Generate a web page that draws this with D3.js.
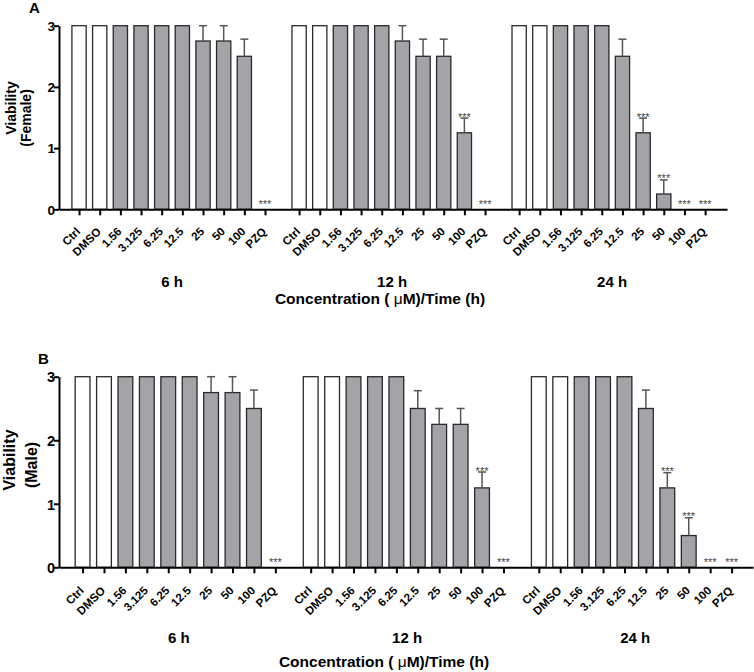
<!DOCTYPE html>
<html>
<head>
<meta charset="utf-8">
<script src="https://cdn.jsdelivr.net/npm/d3@7"></script>
<style>
  html, body { margin: 0; padding: 0; background: #fff; }
  svg { display: block; font-family: Arial, "Liberation Sans", sans-serif; }
</style>
</head>
<body>
<svg id="chart" width="754" height="672"></svg>
<script>
// ---------- data ----------
const categories = ["Ctrl", "DMSO", "1.56", "3.125", "6.25", "12.5", "25", "50", "100", "PZQ"];
const timeLabels = ["6 h", "12 h", "24 h"];
const yTicks = [0, 1, 2, 3];

const female6h    = [3, 3, 3, 3, 3, 3, 2.75, 2.75, 2.5, 0];
const female6hErr = [0, 0, 0, 0, 0, 0, 0.25, 0.25, 0.28, 0];
const female12h    = [3, 3, 3, 3, 3, 2.75, 2.5, 2.5, 1.25, 0];
const female12hErr = [0, 0, 0, 0, 0, 0.25, 0.28, 0.28, 0.24, 0];
const female24h    = [3, 3, 3, 3, 3, 2.5, 1.25, 0.25, 0, 0];
const female24hErr = [0, 0, 0, 0, 0, 0.28, 0.24, 0.23, 0, 0];
const femaleSig6h  = [0, 0, 0, 0, 0, 0, 0, 0, 0, 1];
const femaleSig12h = [0, 0, 0, 0, 0, 0, 0, 0, 1, 1];
const femaleSig24h = [0, 0, 0, 0, 0, 0, 1, 1, 1, 1];

const male6h    = [3, 3, 3, 3, 3, 3, 2.75, 2.75, 2.5, 0];
const male6hErr = [0, 0, 0, 0, 0, 0, 0.25, 0.25, 0.29, 0];
const male12h    = [3, 3, 3, 3, 3, 2.5, 2.25, 2.25, 1.25, 0];
const male12hErr = [0, 0, 0, 0, 0, 0.28, 0.25, 0.25, 0.25, 0];
const male24h    = [3, 3, 3, 3, 3, 2.5, 1.25, 0.5, 0, 0];
const male24hErr = [0, 0, 0, 0, 0, 0.29, 0.24, 0.28, 0, 0];
const maleSig6h  = [0, 0, 0, 0, 0, 0, 0, 0, 0, 1];
const maleSig12h = [0, 0, 0, 0, 0, 0, 0, 0, 1, 1];
const maleSig24h = [0, 0, 0, 0, 0, 0, 1, 1, 1, 1];

// ---------- drawing ----------
const svg = d3.select("#chart");
const GROUP_STEP = 10.65;   // slots between group starts
const WHITE_N = 2;          // Ctrl & DMSO drawn white

function drawPanel(o) {
  const g = svg.append("g");
  const x = d3.scaleLinear().domain([o.slotMin, o.slotMax]).range([o.left, o.right]);
  const y = d3.scaleLinear().domain([0, 3]).range([o.bottom, o.top]);
  const pitch = x(1) - x(0);
  const bw = pitch * 0.69;

  const rows = [];
  o.series.forEach((vals, gi) => {
    vals.forEach((v, i) => {
      rows.push({ gi, i, v, e: o.errs[gi][i], s: o.sig[gi][i], pos: gi * GROUP_STEP + i, name: categories[i] });
    });
  });

  // bars
  g.selectAll("rect.bar").data(rows.filter(d => d.v > 0)).join("rect")
    .attr("class", "bar")
    .attr("x", d => x(d.pos) - bw / 2)
    .attr("width", bw)
    .attr("y", d => y(d.v))
    .attr("height", d => y(0) - y(d.v))
    .attr("fill", d => d.i < WHITE_N ? "#ffffff" : "#a3a3a8")
    .attr("stroke", "#2a2a2a")
    .attr("stroke-width", 1.3);

  // error bars
  const eb = rows.filter(d => d.e > 0);
  g.selectAll("line.err").data(eb).join("line")
    .attr("class", "err")
    .attr("x1", d => x(d.pos)).attr("x2", d => x(d.pos))
    .attr("y1", d => y(d.v)).attr("y2", d => y(d.v + d.e))
    .attr("stroke", "#555").attr("stroke-width", 1.5);
  g.selectAll("line.cap").data(eb).join("line")
    .attr("class", "cap")
    .attr("x1", d => x(d.pos) - 4).attr("x2", d => x(d.pos) + 4)
    .attr("y1", d => y(d.v + d.e)).attr("y2", d => y(d.v + d.e))
    .attr("stroke", "#555").attr("stroke-width", 1.5);

  // significance stars
  g.selectAll("text.sig").data(rows.filter(d => d.s)).join("text")
    .attr("class", "sig")
    .attr("x", d => x(d.pos))
    .attr("y", d => d.v > 0 ? y(d.v + d.e) + 2.5 : y(0) - 1)
    .attr("text-anchor", "middle")
    .attr("font-size", 11)
    .attr("fill", "#444")
    .text("***");

  // axes
  const slotTicks = rows.map(d => d.pos);
  g.append("g").attr("transform", `translate(0,${o.bottom})`)
    .call(d3.axisBottom(x).tickValues(slotTicks).tickSize(6).tickSizeOuter(0).tickFormat(""));

  const ya = g.append("g").attr("transform", `translate(${o.left},0)`)
    .call(d3.axisLeft(y).tickValues(yTicks).tickSize(5).tickSizeOuter(0).tickFormat(d3.format("d")));
  ya.selectAll("text")
    .attr("font-size", o.yFont).attr("font-weight", "bold").attr("fill", "#000")
    .attr("x", -4).attr("dy", "0.36em");

  g.selectAll(".domain, .tick line").attr("stroke", "#000").attr("stroke-width", 2);

  // rotated category labels
  g.selectAll("text.cat").data(rows).join("text")
    .attr("class", "cat")
    .attr("transform", d => `translate(${x(d.pos) + 2},${o.bottom + o.labelDrop}) rotate(-45)`)
    .attr("text-anchor", "end")
    .attr("font-size", o.tickFont)
    .attr("font-weight", "bold")
    .text(d => d.name);

  // group labels
  g.selectAll("text.grp").data(timeLabels).join("text")
    .attr("class", "grp")
    .attr("x", (d, gi) => x(gi * GROUP_STEP + 4.5))
    .attr("y", o.bottom + o.groupDrop)
    .attr("text-anchor", "middle")
    .attr("font-size", 15).attr("font-weight", "bold")
    .text(d => d);

  // x title
  const xt = g.append("text")
    .attr("x", o.titleX).attr("y", o.bottom + o.titleDrop)
    .attr("text-anchor", "middle")
    .attr("font-size", 15.5).attr("font-weight", "bold");
  xt.append("tspan").text("Concentration ( ");
  xt.append("tspan").attr("font-weight", "normal").text("\u03bc");
  xt.append("tspan").text("M)/Time (h)");

  // y title (two lines)
  const ymid = o.ylabCenter;
  g.append("text")
    .attr("transform", `translate(${o.ylab1X},${ymid[0]}) rotate(-90)`)
    .attr("text-anchor", "middle").attr("font-size", o.ylabFont).attr("font-weight", "bold")
    .text("Viability");
  g.append("text")
    .attr("transform", `translate(${o.ylab2X},${ymid[1]}) rotate(-90)`)
    .attr("text-anchor", "middle").attr("font-size", o.ylabFont).attr("font-weight", "bold")
    .text(o.ylab2);

  // panel letter
  g.append("text").attr("x", o.letterX).attr("y", o.letterY)
    .attr("font-size", 15).attr("font-weight", "bold").text(o.letter);
}

drawPanel({
  series: [female6h, female12h, female24h],
  errs: [female6hErr, female12hErr, female24hErr],
  sig: [femaleSig6h, femaleSig12h, femaleSig24h],
  slotMin: -0.97, slotMax: 31.36, left: 59, right: 727,
  top: 25.7, bottom: 209.3,
  tickFont: 11.5, yFont: 13.5, labelDrop: 23,
  groupDrop: 78, titleDrop: 95, titleX: 380,
  ylab1X: 16, ylab2X: 31, ylabCenter: [108, 118], ylabFont: 14, ylab2: "(Female)",
  letter: "A", letterX: 29, letterY: 12.5
});

drawPanel({
  series: [male6h, male12h, male24h],
  errs: [male6hErr, male12hErr, male24hErr],
  sig: [maleSig6h, maleSig12h, maleSig24h],
  slotMin: -1.1, slotMax: 31.3, left: 59, right: 753,
  top: 376.7, bottom: 567.3,
  tickFont: 11.5, yFont: 14.5, labelDrop: 24,
  groupDrop: 76, titleDrop: 100, titleX: 384,
  ylab1X: 15, ylab2X: 37, ylabCenter: [460, 465], ylabFont: 16, ylab2: "(Male)",
  letter: "B", letterX: 38, letterY: 363.5
});
</script>
</body>
</html>
